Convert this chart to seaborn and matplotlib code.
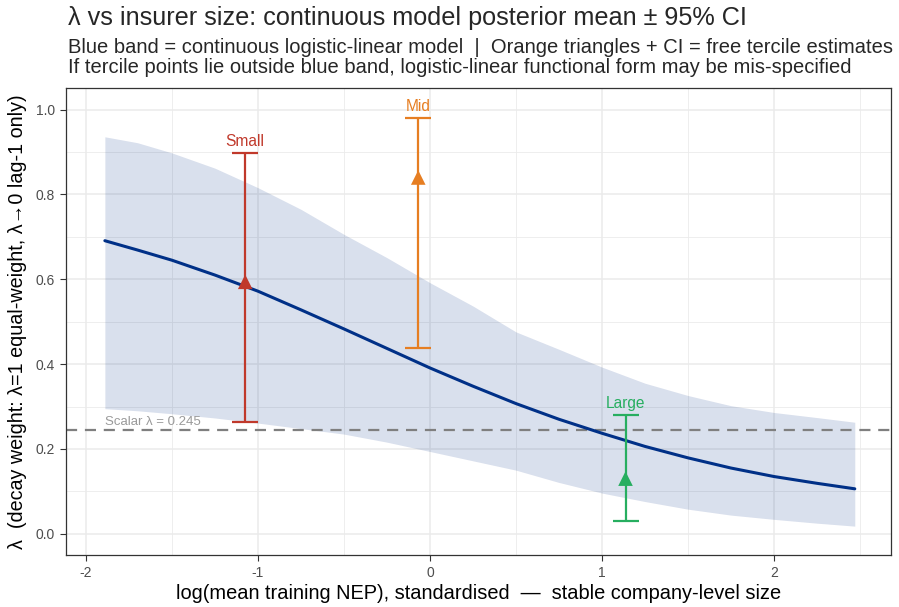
import numpy as np
import pandas as pd
import seaborn as sns
import matplotlib.pyplot as plt

# continuous model: posterior mean and 95% band
x_grid = [-1.89, -1.7, -1.5, -1.25, -1.0, -0.75, -0.5, -0.25, 0.0, 0.25, 0.5,
          0.75, 1.0, 1.25, 1.5, 1.75, 2.0, 2.25, 2.47]
lam_mean = [0.691, 0.669, 0.645, 0.610, 0.572, 0.528, 0.483, 0.437, 0.391, 0.348, 0.307,
            0.270, 0.237, 0.206, 0.179, 0.155, 0.135, 0.119, 0.106]
lam_hi = [0.936, 0.922, 0.898, 0.862, 0.816, 0.765, 0.706, 0.651, 0.592, 0.537, 0.476,
          0.435, 0.393, 0.355, 0.326, 0.302, 0.286, 0.274, 0.263]
lam_lo = [0.295, 0.290, 0.283, 0.273, 0.261, 0.248, 0.235, 0.216, 0.194, 0.172, 0.150,
          0.121, 0.096, 0.076, 0.058, 0.044, 0.034, 0.025, 0.018]

# free tercile estimates
terciles = ['Small', 'Mid', 'Large']
terc_x = [-1.074, -0.068, 1.137]
terc_est = [0.594, 0.840, 0.130]
terc_lo = [0.264, 0.438, 0.029]
terc_hi = [0.898, 0.981, 0.280]
terc_colors = ['#C0392B', '#E67E22', '#27AE60']

scalar_lam = 0.245

sns.set_theme(style='white')
plt.rcParams['font.family'] = ['Liberation Sans', 'DejaVu Sans']

curve = pd.DataFrame({'x': x_grid, 'mean': lam_mean, 'lo': lam_lo, 'hi': lam_hi})
terc = pd.DataFrame({'group': terciles, 'x': terc_x, 'est': terc_est,
                     'lo': terc_lo, 'hi': terc_hi})

fig = plt.figure(figsize=(8.99, 6.07), dpi=100)
ax = fig.add_axes([0.0734, 0.0857, 0.9176, 0.7693])

# grid like theme_bw
for v in np.arange(-2.0, 2.51, 0.5):
    ax.axvline(v, color='#ebebeb', lw=1.1 if v % 1 == 0 else 0.6, zorder=0)
for v in np.arange(0.0, 1.01, 0.1):
    ax.axhline(v, color='#ebebeb', lw=1.1 if round(v * 10) % 2 == 0 else 0.6, zorder=0)

ax.fill_between(curve['x'], curve['lo'], curve['hi'], color='#003087',
                alpha=0.15, lw=0, zorder=1)
sns.lineplot(data=curve, x='x', y='mean', color='#003087', lw=2.2, ax=ax, zorder=3)

ax.axhline(scalar_lam, color='#7f7f7f', lw=1.6, dashes=(5, 3.5), zorder=2)
ax.text(x_grid[0], scalar_lam + 0.005, f'Scalar λ = {scalar_lam}', color='#9a9a9a',
        fontsize=9.5, ha='left', va='bottom')

for _, r in terc.iterrows():
    c = terc_colors[terciles.index(r['group'])]
    ax.errorbar(r['x'], r['est'], yerr=[[r['est'] - r['lo']], [r['hi'] - r['est']]],
                fmt='none', ecolor=c, elinewidth=1.6, capsize=9.2, capthick=1.6, zorder=4)
    ax.annotate(r['group'], (r['x'], r['hi']), xytext=(0, 3), textcoords='offset points',
                ha='center', va='bottom', color=c, fontsize=11.2)
sns.scatterplot(data=terc, x='x', y='est', hue='group', palette=terc_colors,
                marker='^', s=110, edgecolor='none', legend=False, ax=ax, zorder=5)

ax.set_xlim(-2.116, 2.68)
ax.set_ylim(-0.05, 1.051)
ax.set_xticks([-2, -1, 0, 1, 2])
ax.set_xticklabels(['-2', '-1', '0', '1', '2'])
ax.set_yticks([0, 0.2, 0.4, 0.6, 0.8, 1.0])
ax.set_yticklabels(['0.0', '0.2', '0.4', '0.6', '0.8', '1.0'])
ax.tick_params(axis='both', which='major', length=4, width=0.8, color='#333333',
               labelcolor='#4d4d4d', labelsize=10, direction='out', pad=4,
               bottom=True, left=True)
for s in ax.spines.values():
    s.set_color('#333333')
    s.set_linewidth(0.9)

ax.set_xlabel('log(mean training NEP), standardised  —  stable company-level size',
              fontsize=14.4, color='black', labelpad=3)
ax.set_ylabel('λ  (decay weight: λ=1 equal-weight, λ→0 lag-1 only)',
              fontsize=14.2, color='black', labelpad=6)

fig.text(0.0756, 0.971, 'λ vs insurer size: continuous model posterior mean ± 95% CI',
         fontsize=18.2, ha='left', va='center')
fig.text(0.0756, 0.921, 'Blue band = continuous logistic-linear model  |  Orange triangles + CI = free tercile estimates',
         fontsize=14.5, ha='left', va='center')
fig.text(0.0756, 0.888, 'If tercile points lie outside blue band, logistic-linear functional form may be mis-specified',
         fontsize=14.5, ha='left', va='center')

fig.savefig('out.png', dpi=100)
